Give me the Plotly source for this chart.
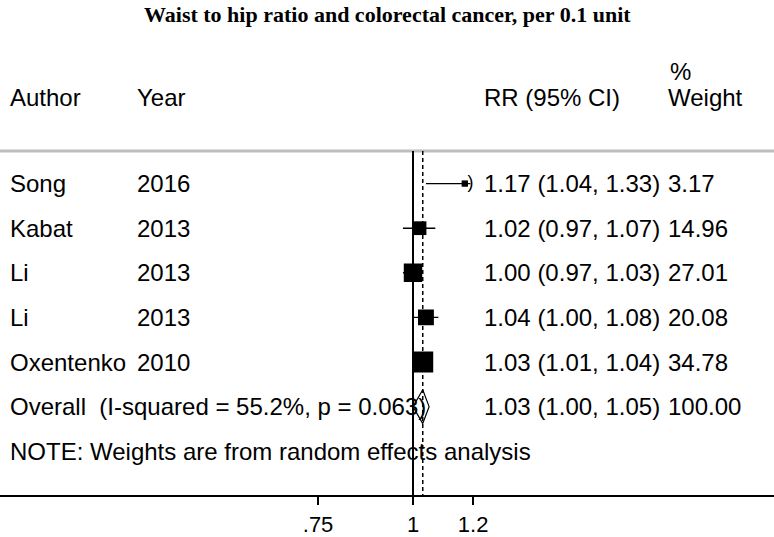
import numpy as np
import plotly.graph_objects as go

# ---------------- data ----------------
authors = ["Song", "Kabat", "Li", "Li", "Oxentenko"]
years = ["2016", "2013", "2013", "2013", "2010"]
rr = [1.17, 1.02, 1.00, 1.04, 1.03]
ci_lo = [1.04, 0.97, 0.97, 1.00, 1.01]
ci_hi = [1.33, 1.07, 1.03, 1.08, 1.04]
weights = [3.17, 14.96, 27.01, 20.08, 34.78]

overall_label = "Overall  (I-squared = 55.2%, p = 0.063)"
overall_rr = 1.03
overall_lo = 1.00
overall_hi = 1.05
overall_weight = 100.00

note_text = "NOTE: Weights are from random effects analysis"
title_text = "Waist to hip ratio and colorectal cancer, per 0.1 unit"
header_cols = ["Author", "Year", "RR (95% CI)", "Weight"]
tick_vals = [0.75, 1, 1.2]
tick_text = [".75", "1", "1.2"]

# ---------------- layout constants ----------------
W, H = 774, 537
ROW_PX = 45.2
FIRST_ROW_PX = 186
AXIS_PX = 502
PX_PER_LN = 330
ONE_PX = 413
X_CLIP = 1.19            # right edge of the graph column (arrow drawn beyond)
FONT = "Liberation Sans, Arial, sans-serif"
FS = 24

x_lo_log = (0 - ONE_PX) / PX_PER_LN / np.log(10)
x_hi_log = (W - ONE_PX) / PX_PER_LN / np.log(10)
y_top = -FIRST_ROW_PX / ROW_PX
y_bot = (AXIS_PX - FIRST_ROW_PX) / ROW_PX
top_line_row = (153 - FIRST_ROW_PX) / ROW_PX

rows = list(range(len(authors)))
overall_row = len(authors)
note_row = overall_row + 1

fig = go.Figure()

# CI lines
xs, ys = [], []
for i, (l, h) in enumerate(zip(ci_lo, ci_hi)):
    xs += [l, min(h, X_CLIP), None]
    ys += [i, i, None]
fig.add_trace(go.Scatter(x=xs, y=ys, mode="lines",
                         line=dict(color="black", width=1.4),
                         hoverinfo="skip", showlegend=False))

# arrow for truncated CI
arr_x = [X_CLIP for h in ci_hi if h > X_CLIP]
arr_y = [i for i, h in enumerate(ci_hi) if h > X_CLIP]
fig.add_trace(go.Scatter(x=arr_x, y=arr_y, mode="text", text=[")"] * len(arr_x),
                         textfont=dict(size=18, color="black", family=FONT),
                         textposition="middle center",
                         hoverinfo="skip", showlegend=False))

# squares, area proportional to weight
fig.add_trace(go.Scatter(x=rr, y=rows, mode="markers",
                         marker=dict(symbol="square", color="#000000", opacity=1,
                                     size=[3.55 * np.sqrt(w) for w in weights],
                                     line=dict(width=0)),
                         opacity=1,
                         hoverinfo="skip", showlegend=False))

# overall diamond
dh = 0.38
fig.add_trace(go.Scatter(
    x=[overall_lo, overall_rr, overall_hi, overall_rr, overall_lo],
    y=[overall_row, overall_row - dh, overall_row, overall_row + dh, overall_row],
    mode="lines", fill="toself", fillcolor="white",
    line=dict(color="black", width=1.2),
    hoverinfo="skip", showlegend=False))

# reference lines
fig.add_shape(type="line", xref="paper", yref="y", x0=0, x1=1,
              y0=top_line_row, y1=top_line_row,
              line=dict(color="#bdbdbd", width=3), layer="below")
fig.add_shape(type="line", xref="x", yref="y", x0=1, x1=1,
              y0=top_line_row, y1=y_bot,
              line=dict(color="black", width=2), layer="below")
fig.add_shape(type="line", xref="x", yref="y", x0=overall_rr, x1=overall_rr,
              y0=top_line_row, y1=y_bot,
              line=dict(color="black", width=1.5, dash="4px,3px"), layer="above")

# text columns
def txt(xpx, row, s, size=FS, family=FONT, anchor="left"):
    fig.add_annotation(xref="paper", yref="y", x=xpx / W, y=row, text=s,
                       showarrow=False, xanchor=anchor, yanchor="middle",
                       font=dict(size=size, family=family, color="black"))

header_row = (99 - FIRST_ROW_PX) / ROW_PX
pct_row = (72 - FIRST_ROW_PX) / ROW_PX
col_px = [8, 135, 482, 666]
for cx, h in zip(col_px, header_cols):
    txt(cx, header_row, h)
txt(668, pct_row, "%")

for i in rows:
    txt(8, i, authors[i])
    txt(135, i, years[i])
    txt(482, i, f"{rr[i]:.2f} ({ci_lo[i]:.2f}, {ci_hi[i]:.2f})")
    txt(666, i, f"{weights[i]:.2f}")

txt(8, overall_row, overall_label)
txt(482, overall_row, f"{overall_rr:.2f} ({overall_lo:.2f}, {overall_hi:.2f})")
txt(666, overall_row, f"{overall_weight:.2f}")
txt(8, note_row, note_text)

fig.add_annotation(xref="paper", yref="paper", x=0.5, y=(H - 15) / H, text="<b>" + title_text + "</b>",
                   showarrow=False, xanchor="center", yanchor="middle",
                   font=dict(size=22, family="Liberation Serif, Times New Roman, serif", color="black"))

fig.update_layout(
    width=W, height=H, margin=dict(l=0, r=0, t=0, b=0),
    paper_bgcolor="white", plot_bgcolor="white",
    xaxis=dict(type="log", range=[x_lo_log, x_hi_log], tickvals=tick_vals, ticktext=tick_text,
               showgrid=False, zeroline=False, showline=True, linecolor="black", linewidth=2,
               ticks="outside", ticklen=8, tickwidth=2, tickcolor="black",
               tickfont=dict(size=22, family=FONT, color="black")),
    yaxis=dict(range=[y_bot, y_top], domain=[(H - AXIS_PX) / H, 1],
               showgrid=False, zeroline=False, showticklabels=False, showline=False),
    showlegend=False,
)

fig.write_html("out.html", config={"displayModeBar": False},
               post_script="document.body.style.margin='0';document.body.style.overflow='hidden';")
